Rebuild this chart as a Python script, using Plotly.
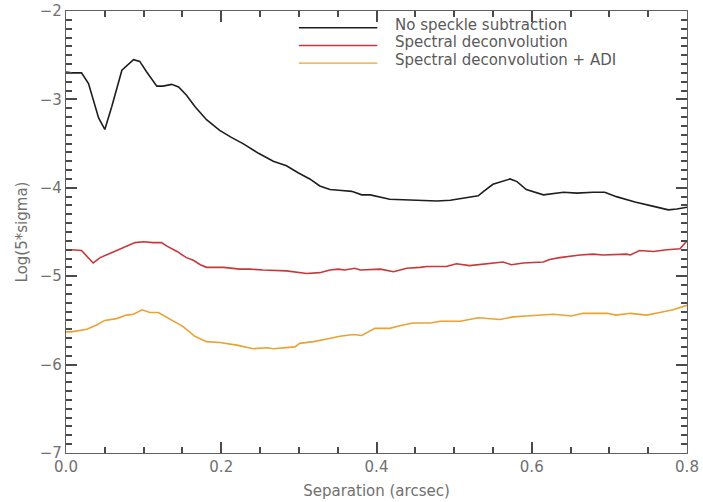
import numpy as np
import plotly.graph_objects as go

# ---- data ----
sep_black = [0.0, 0.007, 0.020, 0.029, 0.042, 0.050, 0.059, 0.072, 0.087, 0.095, 0.104, 0.117, 0.125,
             0.136, 0.145, 0.155, 0.166, 0.181, 0.198, 0.213, 0.228, 0.248, 0.267, 0.284, 0.299, 0.314,
             0.327, 0.340, 0.355, 0.368, 0.381, 0.392, 0.417, 0.447, 0.478, 0.495, 0.516, 0.531, 0.538,
             0.550, 0.572, 0.581, 0.593, 0.615, 0.641, 0.658, 0.679, 0.694, 0.709, 0.733, 0.757, 0.776,
             0.787, 0.800]
log_black = [-2.69, -2.70, -2.70, -2.82, -3.21, -3.34, -3.08, -2.67, -2.55, -2.57, -2.69, -2.85, -2.85,
             -2.83, -2.86, -2.95, -3.08, -3.23, -3.35, -3.43, -3.50, -3.61, -3.70, -3.75, -3.83, -3.90,
             -3.98, -4.02, -4.03, -4.04, -4.08, -4.08, -4.13, -4.14, -4.15, -4.14, -4.11, -4.09, -4.04,
             -3.96, -3.90, -3.93, -4.02, -4.08, -4.05, -4.06, -4.05, -4.05, -4.10, -4.16, -4.21, -4.25,
             -4.24, -4.22]

sep_red = [0.0, 0.007, 0.020, 0.035, 0.044, 0.057, 0.072, 0.089, 0.100, 0.112, 0.123, 0.130, 0.143,
           0.155, 0.164, 0.173, 0.181, 0.203, 0.224, 0.237, 0.254, 0.284, 0.310, 0.327, 0.340, 0.351,
           0.359, 0.372, 0.379, 0.405, 0.422, 0.439, 0.456, 0.465, 0.490, 0.503, 0.520, 0.550, 0.563,
           0.574, 0.589, 0.615, 0.623, 0.636, 0.662, 0.679, 0.692, 0.722, 0.727, 0.739, 0.757, 0.774,
           0.791, 0.800]
log_red = [-4.70, -4.70, -4.71, -4.85, -4.79, -4.74, -4.68, -4.62, -4.61, -4.62, -4.62, -4.66, -4.72,
           -4.79, -4.82, -4.87, -4.90, -4.90, -4.92, -4.92, -4.93, -4.94, -4.97, -4.96, -4.93, -4.92,
           -4.93, -4.91, -4.93, -4.92, -4.95, -4.91, -4.90, -4.89, -4.89, -4.86, -4.88, -4.85, -4.84,
           -4.87, -4.85, -4.84, -4.81, -4.79, -4.76, -4.75, -4.76, -4.75, -4.76, -4.71, -4.72, -4.70,
           -4.69, -4.60]

sep_orange = [0.0, 0.007, 0.027, 0.040, 0.050, 0.065, 0.078, 0.087, 0.098, 0.108, 0.119, 0.138, 0.151,
              0.166, 0.181, 0.198, 0.220, 0.241, 0.259, 0.267, 0.289, 0.295, 0.301, 0.319, 0.336, 0.353,
              0.370, 0.381, 0.398, 0.417, 0.430, 0.447, 0.469, 0.482, 0.508, 0.531, 0.559, 0.576, 0.593,
              0.628, 0.651, 0.666, 0.697, 0.709, 0.727, 0.748, 0.765, 0.782, 0.800]
log_orange = [-5.63, -5.63, -5.60, -5.55, -5.50, -5.48, -5.44, -5.43, -5.38, -5.41, -5.41, -5.50, -5.57,
              -5.68, -5.74, -5.75, -5.78, -5.82, -5.81, -5.82, -5.80, -5.80, -5.76, -5.74, -5.71, -5.68,
              -5.66, -5.67, -5.59, -5.59, -5.56, -5.53, -5.53, -5.51, -5.51, -5.47, -5.49, -5.46, -5.45,
              -5.43, -5.45, -5.42, -5.42, -5.44, -5.42, -5.44, -5.41, -5.38, -5.33]

names = ["No speckle subtraction", "Spectral deconvolution", "Spectral deconvolution + ADI"]
colors = ["#1e1e1e", "#c8383a", "#eaa232"]

x_range = [0, 0.8]
y_range = [-7, -2]

series = [(sep_black, log_black), (sep_red, log_red), (sep_orange, log_orange)]

W, H = 703, 502
ML, MR, MT, MB = 66, 16, 11, 49

fig = go.Figure()
for (xs, ys), n, c in zip(series, names, colors):
    fig.add_trace(go.Scatter(x=xs, y=ys, mode="lines", name=n,
                             line=dict(color=c, width=1.6), showlegend=False))

# manual legend (IDL style)
leg_y_line = [-2.19, -2.39, -2.59]
leg_y_text = [-2.155, -2.355, -2.55]
for i, (n, c) in enumerate(zip(names, colors)):
    fig.add_shape(type="line", xref="x", yref="y", x0=0.300, x1=0.401,
                  y0=leg_y_line[i], y1=leg_y_line[i], line=dict(color=c, width=1.4))
    fig.add_annotation(x=0.421, y=leg_y_text[i], xref="x", yref="y", text=n,
                       showarrow=False, xanchor="left", yanchor="middle",
                       font=dict(family="DejaVu Sans", size=15, color="#5a5a5a"))

tick_col = "#4a4a4a"
axis_common = dict(showline=True, linecolor="#606060", linewidth=1.3, mirror="allticks",
                   ticks="inside", ticklen=11, tickcolor=tick_col, tickwidth=1.5,
                   zeroline=False, automargin=False,
                   tickfont=dict(family="DejaVu Sans", size=15, color="#707070"))

fig.update_xaxes(range=x_range, dtick=0.2, tick0=0, tickformat=".1f",
                 minor=dict(ticks="inside", ticklen=6, dtick=0.05, tickcolor=tick_col),
                 title=dict(text="Separation (arcsec)", standoff=10,
                            font=dict(family="DejaVu Sans", size=15, color="#707070")),
                 **axis_common)
fig.update_yaxes(range=y_range, dtick=1, tick0=-7,
                 minor=dict(ticks="inside", ticklen=6, dtick=0.1, tickcolor=tick_col),
                 title=dict(text="Log(5*sigma)", standoff=8,
                            font=dict(family="DejaVu Sans", size=15, color="#707070")),
                 **axis_common)

fig.update_layout(width=W, height=H, margin=dict(l=ML, r=MR, t=MT, b=MB),
                  plot_bgcolor="white", paper_bgcolor="white")

fig.write_html("out.html")
